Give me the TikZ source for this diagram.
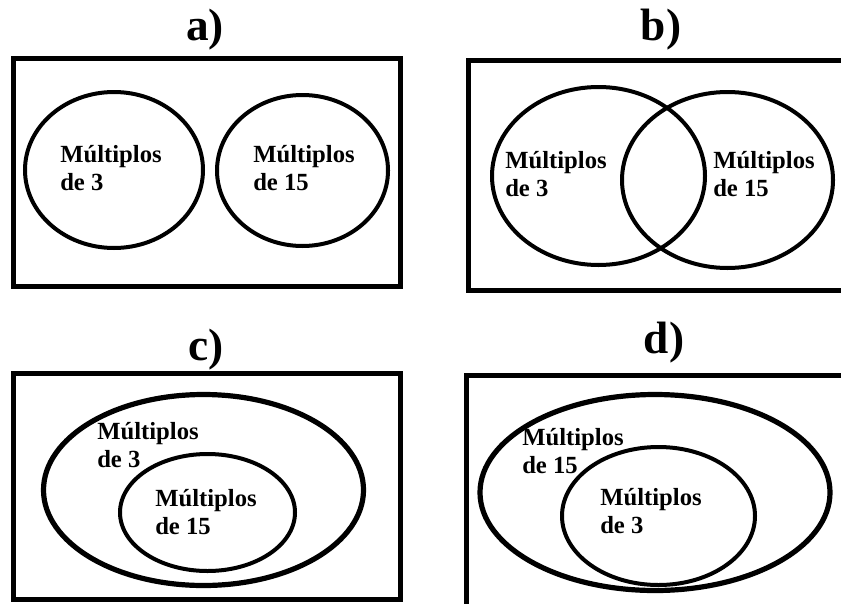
\documentclass[tikz,border=0pt]{standalone}
\usepackage{fontspec}
\setmainfont{Liberation Serif}

\tikzset{
  frame/.style={line width=3.75pt},
  setline/.style={line width=3pt},
  outerset/.style={line width=3.9pt},
  paneltitle/.style={font=\bfseries\fontsize{34}{40}\selectfont,inner sep=0pt},
  setlabel/.style={font=\bfseries\fontsize{18.5}{20.5}\selectfont,align=left,anchor=base west,inner sep=0pt}
}

\begin{document}
\begin{tikzpicture}[x=0.75pt,y=-0.75pt]
  \useasboundingbox (0,0) rectangle (841,603);
  \clip (0,0) rectangle (841,603);

  \node[paneltitle] (ta) at (205,30) {a)};
  \draw[frame] (13,58.5) rectangle (400,286.5);
  \draw[setline] (114,170) ellipse [x radius=89,y radius=78];
  \draw[setline] (302.5,170.5) ellipse [x radius=85.5,y radius=75.5];
  \node[setlabel] (a3) at (60,190) {Múltiplos\\de 3};
  \node[setlabel] (a15) at (253,190) {Múltiplos\\de 15};

  \node[paneltitle] (tb) at (661,30) {b)};
  \draw[frame] (468,60) rectangle (860,290);
  \draw[setline] (598.5,176) ellipse [x radius=106.5,y radius=89];
  \draw[setline] (727.5,180) ellipse [x radius=105.5,y radius=88];
  \node[setlabel] (b3) at (505,196) {Múltiplos\\de 3};
  \node[setlabel] (b15) at (713,196) {Múltiplos\\de 15};

  \node[paneltitle] (tc) at (206,350) {c)};
  \draw[frame] (13,373) rectangle (400,599);
  \draw[outerset] (203.5,490) ellipse [x radius=160,y radius=95.5];
  \draw[setline] (207.5,512.5) ellipse [x radius=87.5,y radius=58.5];
  \node[setlabel] (c3) at (97,467) {Múltiplos\\de 3};
  \node[setlabel] (c15) at (155,534) {Múltiplos\\de 15};

  \node[paneltitle] (td) at (664,343) {d)};
  \draw[frame] (466,375.5) rectangle (860,620);
  \draw[outerset] (655,492.5) ellipse [x radius=175,y radius=98];
  \draw[setline] (658.5,516) ellipse [x radius=96.5,y radius=69];
  \node[setlabel] (d15) at (522,473) {Múltiplos\\de 15};
  \node[setlabel] (d3) at (600,533) {Múltiplos\\de 3};
\end{tikzpicture}
\end{document}
